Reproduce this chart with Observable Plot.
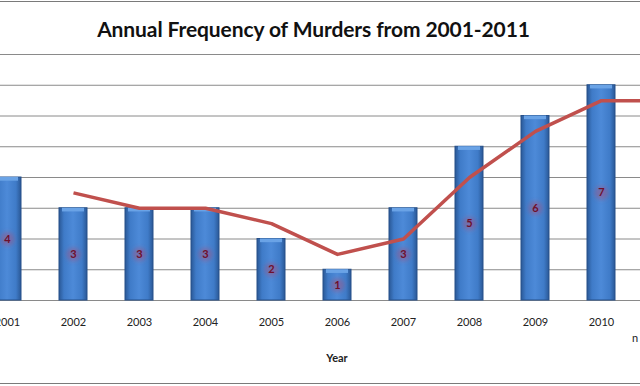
<!DOCTYPE html>
<html>
<head>
<meta charset="utf-8">
<script src="https://cdn.jsdelivr.net/npm/d3@7"></script>
<script src="https://cdn.jsdelivr.net/npm/@observablehq/plot@0.6"></script>
<style>
  html, body { margin: 0; padding: 0; background: #fff; }
  #wrap { position: relative; width: 640px; height: 386px; overflow: hidden; font-family: Lato, "Open Sans", sans-serif; }
  #border { position: absolute; left: 0; top: 1px; width: 640px; height: 383px; border-top: 1px solid #7a7a7a; border-bottom: 1px solid #7a7a7a; box-sizing: border-box; }
  #title { position: absolute; left: 0; top: 16px; width: 627px; text-align: center; font-size: 21px; font-weight: bold; color: #111; letter-spacing: -0.1px; }
  #chart { position: absolute; left: -28px; top: 0; width: 729px; height: 386px; }
  #chart svg { max-width: none !important; }
  #legend { position: absolute; left: 632px; top: 331px; font-size: 11px; color: #222; }
</style>
</head>
<body>
<div id="wrap">
  <div id="border"></div>
  <div id="title">Annual Frequency of Murders from 2001-2011</div>
  <div id="chart"></div>
  <div id="legend">n</div>
</div>
<script>
const years = ["2001","2002","2003","2004","2005","2006","2007","2008","2009","2010","2011"];
const murders = [4, 3, 3, 3, 2, 1, 3, 5, 6, 7, 6];
const visibleYears = ["2001","2002","2003","2004","2005","2006","2007","2008","2009","2010"];
const avgYears = ["2002","2003","2004","2005","2006","2007","2008","2009","2010","2011"];
const movingAvg = [3.5, 3, 3, 2.5, 1.5, 2, 4, 5.5, 6.5, 6.5];
const yTicks = [0, 1, 2, 3, 4, 5, 6, 7, 8];

const bars = years.map((y, i) => ({year: y, value: murders[i]}));
const shownBars = bars.filter(d => visibleYears.includes(d.year));
const avg = avgYears.map((y, i) => ({year: y, value: movingAvg[i]}));

const defs = () => {
  const g = d3.create("svg:defs");
  const lg = g.append("linearGradient").attr("id", "barGrad").attr("x1", "0").attr("x2", "1").attr("y1", "0").attr("y2", "0");
  lg.append("stop").attr("offset", "0%").attr("stop-color", "#2a5896");
  lg.append("stop").attr("offset", "18%").attr("stop-color", "#3f7bc8");
  lg.append("stop").attr("offset", "50%").attr("stop-color", "#4d8ad8");
  lg.append("stop").attr("offset", "82%").attr("stop-color", "#3f7bc8");
  lg.append("stop").attr("offset", "100%").attr("stop-color", "#2a5896");
  const f = g.append("filter").attr("id", "glow").attr("x", "-50%").attr("y", "-50%").attr("width", "200%").attr("height", "200%");
  f.append("feGaussianBlur").attr("stdDeviation", "2.2");
  return g.node();
};

const chart = Plot.plot({
  width: 729,
  height: 386,
  marginLeft: 0,
  marginRight: 0,
  marginTop: 54,
  marginBottom: 86,
  style: {fontFamily: "Lato, 'Open Sans', sans-serif", background: "transparent", maxWidth: "none"},
  x: {type: "band", domain: years, paddingInner: 0.58, paddingOuter: 0.29, label: null},
  y: {domain: [0, 8], axis: null},
  marks: [
    defs,
    Plot.ruleY(yTicks, {stroke: "#8a8a8a", strokeWidth: 1}),
    Plot.barY(bars, {x: "year", y: "value", fill: "url(#barGrad)", stroke: "#27518a", strokeWidth: 1}),
    Plot.barY(bars, {x: "year", y1: "value", y2: d => d.value - 0.12, fill: "#6aa3e6", insetLeft: 3, insetRight: 3}),
    Plot.dot(shownBars, {x: "year", y: d => d.value / 2, r: 7, fill: "#a8507a", fillOpacity: 0.45, stroke: "none"}),
    Plot.text(shownBars, {x: "year", y: d => d.value / 2, text: d => String(d.value), fill: "#6e0f2c", fontSize: 11, fontWeight: "bold"}),
    Plot.line(avg, {x: "year", y: "value", stroke: "#c0504d", strokeWidth: 3.5, strokeLinejoin: "round", strokeLinecap: "butt"}),
    Plot.axisX(visibleYears, {tickSize: 0, tickPadding: 18, fontSize: 11, fill: "#222", label: null}),
    Plot.text(["Year"], {frameAnchor: "bottom", dy: 61, fontWeight: "bold", fontSize: 11, fill: "#222"})
  ]
});
chart.style.maxWidth = "none";
chart.querySelectorAll("circle").forEach(c => c.setAttribute("filter", "url(#glow)"));
document.getElementById("chart").appendChild(chart);
</script>
</body>
</html>
